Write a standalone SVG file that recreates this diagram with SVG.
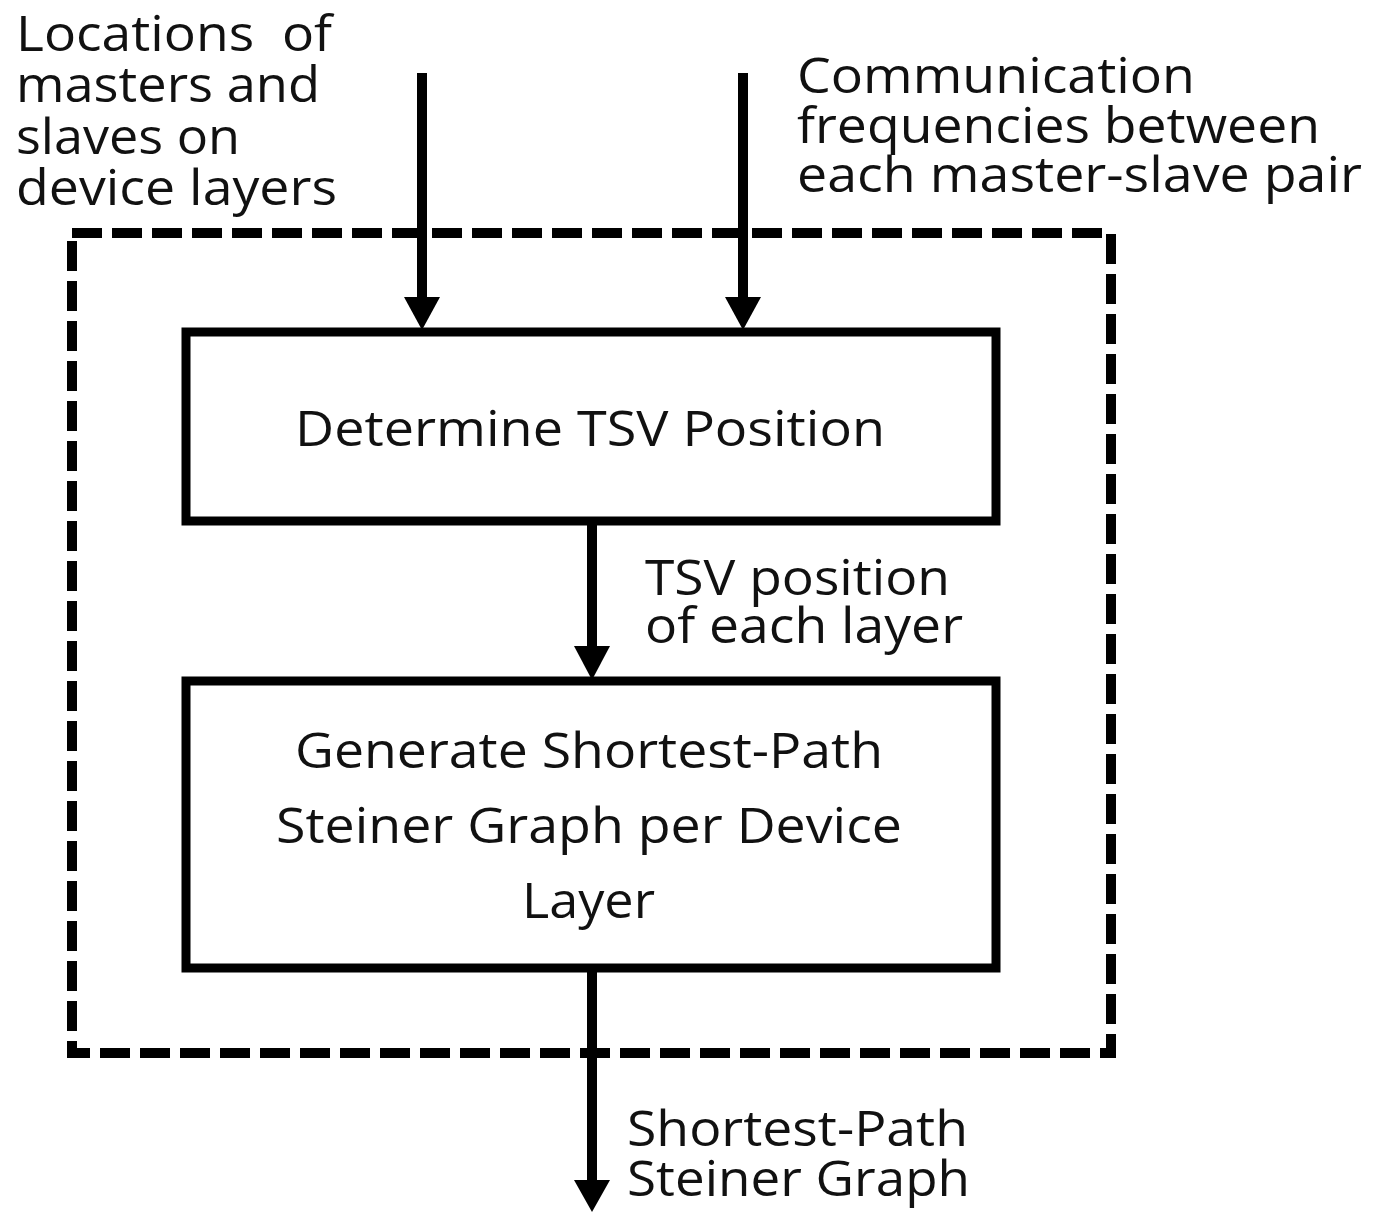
<svg xmlns="http://www.w3.org/2000/svg" width="1378" height="1212" viewBox="0 0 1378 1212">
  <style>
    .t { font-family: "Open Sans", Lato, "Liberation Sans", sans-serif; font-size: 50px; fill: #111; }
    .box { fill: #fff; stroke: #000; stroke-width: 9; }
    .frame { fill: none; stroke: #000; stroke-width: 10; stroke-dasharray: 30 10; }
    .wire { stroke: #000; stroke-width: 10; fill: none; }
  </style>
  <rect width="1378" height="1212" fill="#fff"/>

  <!-- scope of the routing stage -->
  <rect id="scope" class="frame" x="72" y="233" width="1039" height="820"/>

  <g id="connectors">
    <path class="wire" d="M422 73 V300"/>
    <path d="M404 297 L440 297 L422 330 Z"/>
    <path class="wire" d="M743 73 V300"/>
    <path d="M725 297 L761 297 L743 330 Z"/>
    <path class="wire" d="M592 521 V650"/>
    <path d="M574 646 L610 646 L592 680 Z"/>
    <path class="wire" d="M592 968 V1182"/>
    <path d="M574 1180 L610 1180 L592 1212 Z"/>
  </g>

  <g id="inputs-left">
    <text class="t" x="16" y="51" textLength="316" lengthAdjust="spacingAndGlyphs" xml:space="preserve">Locations  of</text>
    <text class="t" x="16" y="102" textLength="304" lengthAdjust="spacingAndGlyphs">masters and</text>
    <text class="t" x="16" y="154" textLength="224" lengthAdjust="spacingAndGlyphs">slaves on</text>
    <text class="t" x="16" y="205" textLength="321" lengthAdjust="spacingAndGlyphs">device layers</text>
  </g>
  <g id="inputs-right">
    <text class="t" x="797" y="93" textLength="398" lengthAdjust="spacingAndGlyphs">Communication</text>
    <text class="t" x="797" y="143" textLength="523" lengthAdjust="spacingAndGlyphs">frequencies between</text>
    <text class="t" x="797" y="192" textLength="565" lengthAdjust="spacingAndGlyphs">each master-slave pair</text>
  </g>

  <g id="tsv">
    <rect class="box" x="186" y="332" width="810" height="189"/>
    <text class="t" x="295" y="446" textLength="590" lengthAdjust="spacingAndGlyphs">Determine TSV Position</text>
  </g>

  <g id="tsv-label">
    <text class="t" x="645" y="595" textLength="305" lengthAdjust="spacingAndGlyphs">TSV position</text>
    <text class="t" x="645" y="643" textLength="318" lengthAdjust="spacingAndGlyphs">of each layer</text>
  </g>

  <g id="steiner">
    <rect class="box" x="186" y="681" width="810" height="287"/>
    <text class="t" x="295" y="768" textLength="588" lengthAdjust="spacingAndGlyphs">Generate Shortest-Path</text>
    <text class="t" x="276" y="843" textLength="626" lengthAdjust="spacingAndGlyphs">Steiner Graph per Device</text>
    <text class="t" x="522" y="918" textLength="133" lengthAdjust="spacingAndGlyphs">Layer</text>
  </g>

  <g id="output-label">
    <text class="t" x="627" y="1146" textLength="341" lengthAdjust="spacingAndGlyphs">Shortest-Path</text>
    <text class="t" x="627" y="1196" textLength="343" lengthAdjust="spacingAndGlyphs">Steiner Graph</text>
  </g>
</svg>
